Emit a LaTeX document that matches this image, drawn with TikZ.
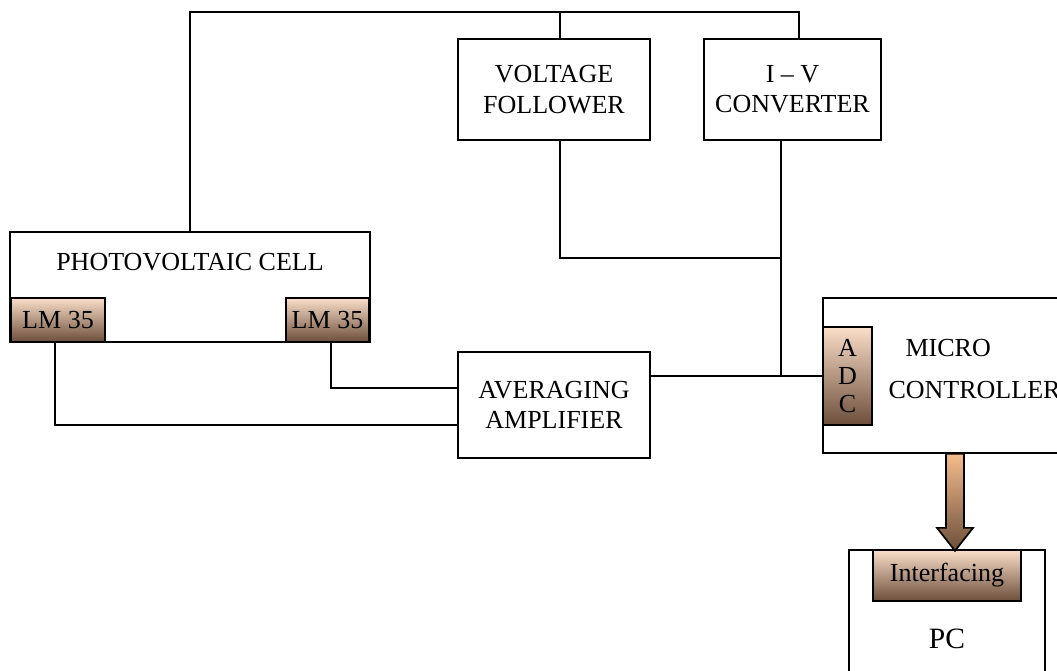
\documentclass[tikz,border=0pt]{standalone}
\usepackage{fontspec}
\setmainfont{Liberation Serif}
\definecolor{peach}{RGB}{250,222,200}
\definecolor{apricot}{RGB}{245,188,140}
\definecolor{umber}{RGB}{108,78,58}
\begin{document}
\begin{tikzpicture}[
    x=0.025cm, y=-0.025cm,
    font=\fontsize{18.5}{21.5}\selectfont,
    line width=1.2pt,
    block/.style={rectangle, draw=black, fill=white, align=center, inner sep=0pt},
    sensor/.style={rectangle, draw=black, top color=peach, bottom color=umber, align=center, inner sep=0pt},
    wire/.style={draw=black, line width=1.2pt},
    flow/.style={draw=black, top color=apricot, bottom color=umber}
]
\useasboundingbox (0,0) rectangle (1057,670);

% --- Nodes ---
% Top row
\node (vf) at (554, 89.5) [block, minimum width=4.8cm, minimum height=2.525cm] {VOLTAGE\\FOLLOWER};
\node (ivc) at (792.5, 89.5) [block, minimum width=4.425cm, minimum height=2.525cm] {I -- V\\CONVERTER};

% Sensor block (left)
\node (pv) at (190, 287) [block, minimum width=9cm, minimum height=2.75cm] {};
\node (pvtext) at (190, 262) {PHOTOVOLTAIC CELL};
\node (lmL) at (58, 320) [sensor, minimum width=2.35cm, minimum height=1.1cm] {LM 35};
\node (lmR) at (327.5, 320) [sensor, minimum width=2.075cm, minimum height=1.1cm] {LM 35};

% Middle
\node (avg) at (554, 405) [block, minimum width=4.8cm, minimum height=2.65cm] {AVERAGING\\AMPLIFIER};

% Micro controller (right)
\node (mcu) at (949, 375.5) [block, minimum width=6.3cm, minimum height=3.875cm] {};
\node (mcutext) at (883, 369) [anchor=west, align=left] {\hspace{0.425cm}MICRO\\[0.3cm]CONTROLLER};
\node (adc) at (847.5, 376) [sensor, minimum width=1.225cm, minimum height=2.45cm, font=\fontsize{18.5}{20}\selectfont] {A\\D\\C};

% PC
\node (pc) at (947, 625) [block, minimum width=4.9cm, minimum height=3.75cm] {};
\node (pctext) at (947, 639) [font=\fontsize{21}{24}\selectfont] {PC};
\node (intf) at (947, 575.5) [sensor, minimum width=3.7cm, minimum height=1.275cm] {Interfacing};

% --- Edges ---
% Supply bus on top
\coordinate (bus) at (560, 12);
\coordinate (tap) at (781, 258);
\draw [wire] (pv.north) |- (bus) -| ([xshift=0.16cm]ivc.north);
\draw [wire] ([xshift=0.15cm]vf.north) -- (bus);

% Signals to the ADC
\draw [wire] ([xshift=0.15cm]vf.south) |- (tap);
\draw [wire] ([xshift=-0.29cm]ivc.south) |- (adc.west);
\draw [wire] (avg.east |- adc.west) -- (adc.west);

% Temperature sensors to the amplifier
\draw [wire] ([xshift=-0.075cm]lmL.south) |- ([yshift=-0.5cm]avg.west);
\draw [wire] ([xshift=0.0875cm]lmR.south) |- ([yshift=0.425cm]avg.west);

% Block arrow to the PC
\draw [flow] ([xshift=0.15cm]mcu.south) ++(-9,0) -- ++(18,0) -- ++(0,74) -- ++(9,0)
    -- ++(-18,23) -- ++(-18,-23) -- ++(9,0) -- cycle;

\end{tikzpicture}
\end{document}
